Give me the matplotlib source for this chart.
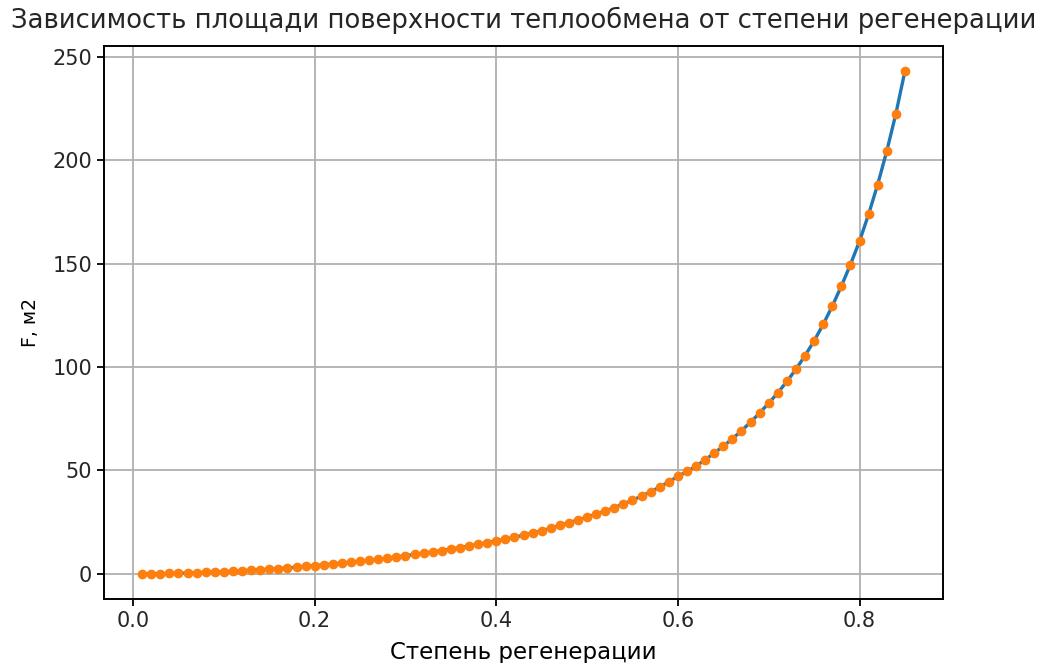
import matplotlib
matplotlib.use("Agg")
import matplotlib.pyplot as plt

# Степень регенерации (0.01 ... 0.85)
regen = [round(0.01 * i, 2) for i in range(1, 86)]

# Площадь поверхности теплообмена F, м2
area = [
    0.0, 0.1, 0.1, 0.2, 0.3, 0.4, 0.6, 0.7, 0.9, 1.1,
    1.3, 1.5, 1.8, 2.0, 2.3, 2.6, 2.9, 3.2, 3.6, 4.0,
    4.4, 4.8, 5.2, 5.7, 6.1, 6.6, 7.1, 7.6, 8.2, 8.8,
    9.4, 10.0, 10.6, 11.3, 12.0, 12.7, 13.5, 14.3, 15.1, 16.0,
    16.8, 17.7, 18.7, 19.8, 20.9, 22.0, 23.4, 24.8, 26.0, 27.4,
    28.9, 30.4, 32.0, 33.8, 35.6, 37.6, 39.7, 42.0, 44.5, 47.1,
    49.5, 52.1, 55.1, 58.4, 61.7, 65.3, 69.2, 73.3, 77.8, 82.5,
    87.5, 93.0, 98.9, 105.5, 112.6, 120.6, 129.4, 139.1, 149.5, 160.8,
    173.8, 188.2, 204.3, 222.3, 243.0,
]

title = "Зависимость площади поверхности теплообмена от степени регенерации"
xlabel = "Степень регенерации"
ylabel = "F, м2"

text_color = "#262626"
plt.rcParams["text.color"] = text_color
plt.rcParams["xtick.labelcolor"] = text_color
plt.rcParams["ytick.labelcolor"] = text_color

fig = plt.figure(figsize=(10.37, 6.63), dpi=100)
ax = fig.add_axes([0.1003, 0.0965, 0.8091, 0.8341])

ax.plot(regen, area, color="#1f77b4", linewidth=2.4, zorder=2)
ax.plot(regen, area, ".", color="#ff7f0e", markersize=12, zorder=3)

ax.set_title(title, fontsize=18.6, pad=13)
ax.set_xlabel(xlabel, fontsize=16.5, labelpad=7)
ax.set_ylabel(ylabel, fontsize=13.5, labelpad=9)
ax.tick_params(labelsize=15, width=1.3, length=5)
ax.grid(True, color="#b0b0b0", linewidth=1.3)
for s in ax.spines.values():
    s.set_linewidth(1.4)

fig.savefig("out.png", dpi=100)
